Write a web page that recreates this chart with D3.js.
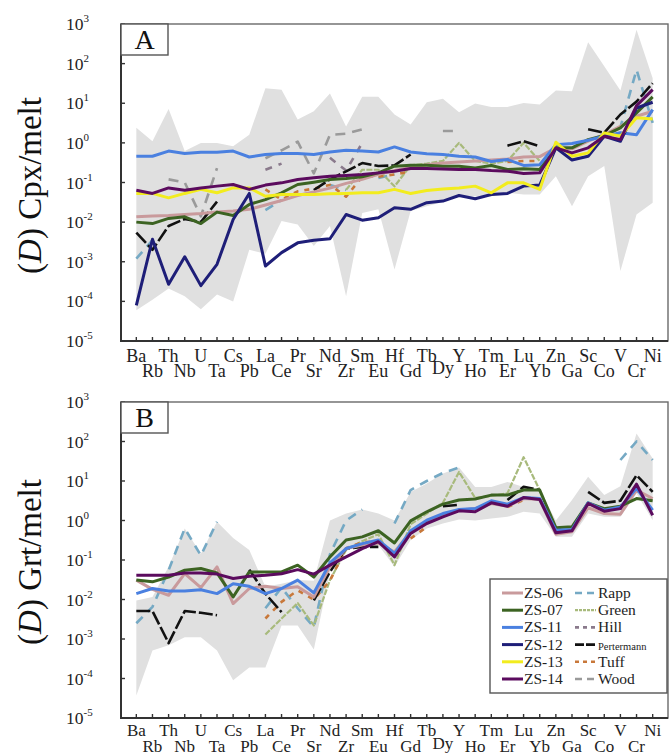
<!DOCTYPE html>
<html><head><meta charset="utf-8">
<script src="https://cdn.jsdelivr.net/npm/d3@7"></script>
<style>body{margin:0;background:#fff}svg{display:block}</style>
</head><body><svg id="c" width="670" height="756"></svg>
<script>
const categories = ["Ba","Rb","Th","Nb","U","Ta","Cs","Pb","La","Ce","Pr","Sr","Nd","Zr","Sm","Eu","Hf","Gd","Tb","Dy","Y","Ho","Tm","Er","Lu","Yb","Zn","Ga","Sc","Co","V","Cr","Ni"];
const yTickExponents = [3,2,1,0,-1,-2,-3,-4,-5];
const _ = null;

// ---- Panel A: D Cpx/melt ----
const cpxZS06 = [0.0136,0.0142,0.0147,0.0156,0.0165,0.0179,0.019,0.021,0.027,0.035,0.047,0.058,0.072,0.095,0.12,0.16,0.2,0.24,0.28,0.31,0.33,0.35,0.37,0.39,0.44,0.45,0.75,0.71,1.1,1.62,2.6,4.7,6.3];
const cpxZS07 = [0.010,0.0092,0.0124,0.0136,0.0092,0.0179,0.0147,0.028,0.037,0.055,0.089,0.102,0.119,0.126,0.139,0.175,0.258,0.274,0.274,0.258,0.258,0.234,0.268,0.213,0.221,0.213,0.75,0.75,1.21,1.53,2.4,5.7,14.5];
const cpxZS11 = [0.46,0.46,0.62,0.54,0.58,0.58,0.62,0.44,0.51,0.54,0.54,0.51,0.59,0.65,0.62,0.59,0.79,0.59,0.53,0.51,0.46,0.44,0.34,0.38,0.27,0.28,0.9,0.96,1.17,1.47,1.8,1.6,6.9];
const cpxZS12 = [7.9e-5,3.7e-3,2.7e-4,1.34e-3,2.5e-4,8.6e-4,0.0117,0.053,7.8e-4,1.7e-3,3.0e-3,3.5e-3,3.8e-3,0.0156,0.0112,0.0129,0.023,0.021,0.031,0.034,0.047,0.039,0.050,0.053,0.081,0.086,0.75,0.37,0.46,1.47,1.1,7.6,10.6];
const cpxZS13 = [0.053,0.053,0.041,0.053,0.067,0.055,0.073,0.073,0.045,0.050,0.050,0.050,0.052,0.053,0.055,0.055,0.067,0.053,0.063,0.069,0.073,0.081,0.055,0.098,0.098,0.067,1.04,0.46,0.56,1.79,1.47,4.3,4.0];
const cpxZS14 = [0.064,0.053,0.073,0.064,0.073,0.081,0.089,0.067,0.086,0.098,0.119,0.131,0.144,0.150,0.159,0.175,0.193,0.225,0.225,0.22,0.213,0.213,0.20,0.193,0.169,0.175,0.75,0.56,0.75,1.47,1.21,8.7,22];
const cpxRapp = [0.0012,0.0035,_,_,_,_,_,_,0.02,0.036,_,_,0.087,0.065,_,0.13,0.16,_,_,_,_,_,_,_,_,_,_,_,_,1.5,2.5,70,3.2];
const cpxGreen = [_,_,_,_,_,_,_,_,_,_,_,_,_,0.065,0.21,0.21,0.08,0.27,0.3,0.35,1.0,0.35,0.3,0.35,1.0,0.35,_,_,_,_,_,_,_];
const cpxHill = [_,_,_,_,_,_,_,_,0.21,0.3,_,_,0.42,0.2,1.0,_,_,_,_,_,_,_,_,_,_,_,_,_,_,_,_,_,_];
const cpxPertermann = [0.0054,0.002,0.008,0.012,0.01,0.033,_,_,_,_,_,0.064,0.12,0.19,0.31,0.26,0.27,0.51,_,_,_,_,_,0.85,1.1,0.82,_,_,2.2,1.8,5.2,11,32];
const cpxTuff = [_,_,_,_,_,_,_,_,0.067,0.037,0.06,0.07,0.087,0.044,0.14,0.14,0.16,0.19,_,_,_,_,_,0.33,0.35,0.35,_,_,_,_,_,_,_];
const cpxWood = [_,_,0.12,0.1,0.014,0.23,_,_,0.41,0.65,1.07,0.17,1.6,1.7,2.2,_,_,_,_,2.0,2.0,_,_,_,_,_,_,_,_,_,_,_,_];
const cpxRangeHigh = [2.4,1.1,7.2,0.62,1.0,1.0,0.82,1.6,24,22,3.9,6.3,17.6,2.6,14.5,14.5,5.2,2.9,10.6,12.9,5.9,9.8,8.1,8.1,10.2,9.3,21,20,345,86,21,720,43];
const cpxRangeLow = [6e-5,1.1e-4,2.1e-4,1.35e-4,6.3e-5,1.5e-4,1.0e-4,2e-3,1.6e-3,0.0106,0.0087,2.5e-3,0.008,1.35e-4,0.017,0.021,6.4e-4,0.019,0.025,0.032,0.045,0.045,0.045,0.055,0.050,0.050,0.144,0.025,0.144,0.26,5.8e-4,0.0155,0.031];

// ---- Panel B: D Grt/melt ----
const grtZS06 = [0.031,0.018,0.0128,0.045,0.020,0.067,0.0079,0.019,0.0216,0.019,0.021,0.0115,0.067,0.195,0.24,0.27,0.16,0.52,0.92,1.37,1.83,2.0,2.7,2.3,3.6,3.4,0.45,0.52,2.1,1.5,1.45,5.9,3.6];
const grtZS07 = [0.031,0.028,0.037,0.055,0.061,0.047,0.0116,0.050,0.050,0.050,0.074,0.037,0.12,0.32,0.385,0.55,0.27,0.98,1.66,2.6,3.3,3.5,4.4,4.4,5.9,5.9,0.66,0.69,2.8,2.0,2.3,3.6,3.15];
const grtZS11 = [0.0141,0.019,0.0164,0.0164,0.0177,0.0141,0.025,0.0216,0.0141,0.019,0.031,0.0147,0.084,0.195,0.26,0.32,0.146,0.55,1.02,1.5,1.9,2.0,3.15,2.6,3.8,3.6,0.57,0.59,2.8,1.83,2.2,6.5,1.83];
const grtZS14 = [0.041,0.041,0.041,0.047,0.047,0.044,0.034,0.039,0.041,0.045,0.057,0.044,0.074,0.12,0.195,0.29,0.12,0.47,0.84,1.24,1.76,1.66,2.8,2.3,3.8,3.4,0.49,0.55,2.7,1.72,2.0,8.3,1.36];
const grtRapp = [0.0025,0.0065,0.055,0.63,0.13,0.93,_,_,0.006,0.02,0.006,0.002,0.14,1.0,1.9,_,0.84,5.9,10,16,22,_,_,_,_,_,_,_,_,_,34,100,34];
const grtGreen = [_,_,_,_,_,_,_,_,0.0013,0.0033,0.0081,0.0022,0.031,0.18,0.3,0.45,0.074,0.8,1.5,2.8,17,3.7,4.2,4.9,40,5.9,_,_,_,_,_,_,_];
const grtPertermann = [0.0051,0.0051,7.9e-4,0.0051,0.0046,0.004,_,0.057,0.014,0.0048,_,0.0095,0.05,0.195,0.215,0.215,_,_,_,2.3,2.5,_,_,3.3,7.1,5.9,_,_,5.3,2.8,3.15,14,5.3];
const grtTuff = [_,_,_,_,_,_,_,_,0.0033,0.0087,0.017,0.01,0.03,0.2,0.28,0.3,_,0.35,0.69,_,_,_,_,2.2,3.3,_,_,_,_,_,_,_,_];
const grtRangeHigh = [0.0095,0.0116,0.067,0.63,0.145,0.93,0.36,0.18,0.021,0.025,0.031,0.03,1.0,1.5,1.9,1.5,1.0,5.3,8.7,15.5,22,7.1,7.1,9.5,7.1,5.9,1.0,3.3,12.8,4.4,7.4,160,37];
const grtRangeLow = [3.7e-5,5.1e-4,6.9e-4,1.1e-3,1.1e-3,5.1e-4,9e-5,1.9e-4,1.9e-4,2.2e-3,2.2e-3,5.4e-4,0.05,0.18,0.21,0.24,0.067,0.32,0.63,0.84,1.06,1.0,1.12,1.24,1.66,1.5,0.39,0.39,1.5,1.24,1.24,4.8,1.02];

// ---- styles ----
const FONT = '"Liberation Serif","Times New Roman",serif';
const styles = {
  "ZS-06": {color:"#c99a9c", width:3, dash:null},
  "ZS-07": {color:"#3c6322", width:3, dash:null},
  "ZS-11": {color:"#4a80e0", width:3, dash:null},
  "ZS-12": {color:"#1e1e78", width:3, dash:null},
  "ZS-13": {color:"#f2ec1e", width:3, dash:null},
  "ZS-14": {color:"#5b0b5e", width:3, dash:null},
  "Rapp": {color:"#75a9c4", width:2.6, dash:"9,7"},
  "Green": {color:"#a8ba7c", width:2.2, dash:"6,1.5"},
  "Hill": {color:"#8a7a8c", width:2.6, dash:"7,7"},
  "Pertermann": {color:"#111111", width:2.6, dash:"14,3"},
  "Tuff": {color:"#c8783a", width:2.6, dash:"5,6"},
  "Wood": {color:"#9a9a9a", width:2.6, dash:"10,7"}
};

const svg = d3.select("#c");
const x = d3.scalePoint().domain(categories).range([121, 668]).padding(0.95);

function drawPanel(cfg) {
  const y = d3.scaleLog().domain([1e-5, 1e3]).range([cfg.bottom, cfg.top]);
  const g = svg.append("g");
  const clipId = "clip" + cfg.label;
  g.append("clipPath").attr("id", clipId).append("rect")
    .attr("x", 121).attr("y", cfg.top).attr("width", 547).attr("height", cfg.bottom - cfg.top);
  const plot = g.append("g").attr("clip-path", `url(#${clipId})`);

  const area = d3.area()
    .x((d, i) => x(categories[i]))
    .y0(d => y(d[0])).y1(d => y(d[1]));
  plot.append("path")
    .datum(cfg.rangeLow.map((v, i) => [v, cfg.rangeHigh[i]]))
    .attr("d", area).attr("fill", "#e0e0e0");

  const line = d3.line()
    .defined(d => d != null)
    .x((d, i) => x(categories[i]))
    .y(d => y(d));
  cfg.series.forEach(([name, vals]) => {
    const s = styles[name];
    plot.append("path").datum(vals).attr("d", line)
      .attr("fill", "none").attr("stroke", s.color)
      .attr("stroke-width", s.width)
      .attr("stroke-dasharray", s.dash)
      .attr("stroke-linejoin", "round");
  });

  // frame
  g.append("rect").attr("x", 121).attr("y", cfg.top).attr("width", 547).attr("height", cfg.bottom - cfg.top)
    .attr("fill", "none").attr("stroke", "#6a6a6a").attr("stroke-width", 1.4);
  g.append("line").attr("x1", 121).attr("x2", 121).attr("y1", cfg.top).attr("y2", cfg.bottom + 1)
    .attr("stroke", "#333").attr("stroke-width", 2);
  g.append("line").attr("x1", 120).attr("x2", 668).attr("y1", cfg.bottom).attr("y2", cfg.bottom)
    .attr("stroke", "#333").attr("stroke-width", 2);

  // y ticks
  yTickExponents.forEach(e => {
    const yy = y(Math.pow(10, e));
    g.append("line").attr("x1", 121).attr("x2", 125).attr("y1", yy).attr("y2", yy)
      .attr("stroke", "#333").attr("stroke-width", 1.4);
    const t = g.append("text").attr("x", 66).attr("y", yy + 6)
      .attr("font-family", FONT).attr("font-size", 17.5).attr("fill", "#222");
    t.append("tspan").text("10");
    t.append("tspan").attr("font-size", 11).attr("dy", -8).text(e < 0 ? "-" + (-e) : String(e));
  });
  // x ticks & labels
  categories.forEach((c, i) => {
    const xx = x(c);
    g.append("line").attr("x1", xx).attr("x2", xx).attr("y1", cfg.bottom).attr("y2", cfg.bottom - 4)
      .attr("stroke", "#333").attr("stroke-width", 1.4);
    const row = i % 2;
    g.append("text").attr("x", xx).attr("y", cfg.bottom + (row ? cfg.row2 : cfg.row1) - (c === "Dy" ? 3 : 0))
      .attr("text-anchor", "middle").attr("font-family", FONT).attr("font-size", cfg.labelSize)
      .attr("fill", "#222").text(c);
  });

  // panel label box
  g.append("rect").attr("x", 121).attr("y", cfg.top).attr("width", 47).attr("height", 31)
    .attr("fill", "#fff").attr("stroke", "#555").attr("stroke-width", 1.4);
  g.append("text").attr("x", 144.5).attr("y", cfg.top + 25).attr("text-anchor", "middle")
    .attr("font-family", FONT).attr("font-size", 28).attr("fill", "#111").text(cfg.label);

  // y axis title
  const cy = (cfg.top + cfg.bottom) / 2 + cfg.titleShift;
  const yt = g.append("text").attr("transform", `translate(41,${cy}) rotate(-90)`)
    .attr("text-anchor", "middle").attr("font-family", FONT).attr("font-size", 33).attr("fill", "#111");
  yt.append("tspan").text("(");
  yt.append("tspan").attr("font-style", "italic").text("D");
  yt.append("tspan").text(") " + cfg.title);
  return y;
}

drawPanel({
  label: "A", title: "Cpx/melt", top: 24, bottom: 341, row1: 21, row2: 36, labelSize: 18, titleShift: 3,
  rangeHigh: cpxRangeHigh, rangeLow: cpxRangeLow,
  series: [["Wood", cpxWood], ["Hill", cpxHill], ["Rapp", cpxRapp], ["Green", cpxGreen], ["Tuff", cpxTuff], ["Pertermann", cpxPertermann],
    ["ZS-06", cpxZS06], ["ZS-07", cpxZS07], ["ZS-11", cpxZS11], ["ZS-12", cpxZS12], ["ZS-13", cpxZS13], ["ZS-14", cpxZS14]]
});
drawPanel({
  label: "B", title: "Grt/melt", top: 402, bottom: 718, row1: 18, row2: 34, labelSize: 17, titleShift: 2,
  rangeHigh: grtRangeHigh, rangeLow: grtRangeLow,
  series: [["Rapp", grtRapp], ["Green", grtGreen], ["Tuff", grtTuff], ["Pertermann", grtPertermann],
    ["ZS-06", grtZS06], ["ZS-07", grtZS07], ["ZS-11", grtZS11], ["ZS-14", grtZS14]]
});

// legend
const legendLeft = ["ZS-06","ZS-07","ZS-11","ZS-12","ZS-13","ZS-14"];
const legendRight = ["Rapp","Green","Hill","Pertermann","Tuff","Wood"];
const lg = svg.append("g");
lg.append("rect").attr("x", 490).attr("y", 579).attr("width", 177).attr("height", 114)
  .attr("fill", "#fff").attr("stroke", "#555").attr("stroke-width", 1.4);
[[legendLeft, 502, 524], [legendRight, 575, 598]].forEach(([names, x0, tx]) => {
  names.forEach((n, i) => {
    const yy = 593 + i * 17.2;
    const s = styles[n];
    lg.append("line").attr("x1", x0).attr("x2", x0 + 21).attr("y1", yy).attr("y2", yy)
      .attr("stroke", s.color).attr("stroke-width", s.width)
      .attr("stroke-dasharray", s.dash ? (n === "Green" ? "3,1" : n === "Pertermann" ? "9,2" : n === "Hill" || n === "Tuff" ? "4,4" : "7,5") : null);
    lg.append("text").attr("x", tx).attr("y", yy + 5)
      .attr("font-family", FONT).attr("font-size", n === "Pertermann" ? 10.5 : 15.5)
      .attr("fill", "#222").text(n);
  });
});
</script></body></html>
